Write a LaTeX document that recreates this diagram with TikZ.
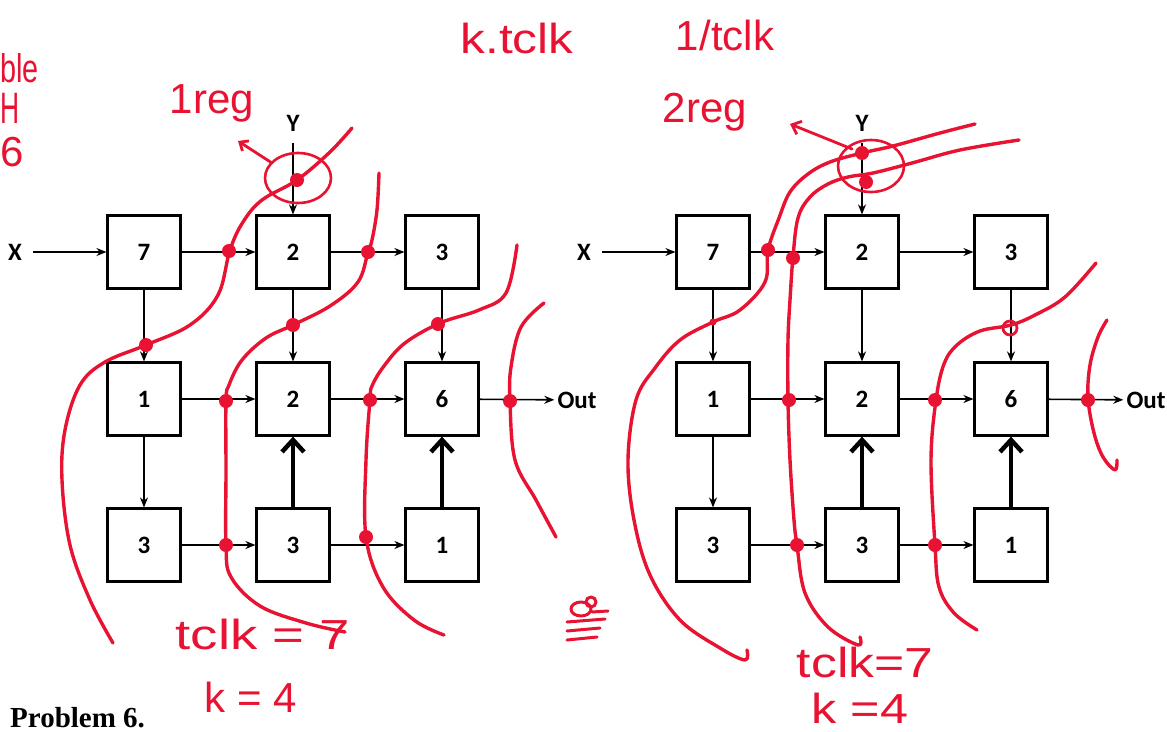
\documentclass[tikz,border=0pt]{standalone}
\usepackage{fontspec}
\usetikzlibrary{arrows.meta}
\newfontfamily\boxfont{Carlito}
\newfontfamily\handfont{Liberation Sans}
\newfontfamily\probfont{Liberation Serif}
\definecolor{pen}{RGB}{232,18,50}
\tikzset{
  blk/.style={draw, line width=2.2pt, minimum width=73pt, minimum height=73pt, inner sep=0pt,
    font=\boxfont\bfseries\fontsize{25}{25}\selectfont},
  lbl/.style={inner sep=0pt, font=\boxfont\bfseries\fontsize{25}{25}\selectfont},
  conn/.style={line width=1.6pt, -{Stealth[length=10pt,width=8pt]}},
  boldarr/.style={line width=4.5pt, -{Straight Barb[length=12pt,width=22pt]}},
  cut/.style={pen, line width=3.4pt, line cap=round, line join=round},
  ring/.style={pen, line width=2.6pt},
  hand/.style={pen, inner sep=0pt, font=\handfont\fontsize{42}{42}\selectfont},
}
\newcommand\pipegrid{%
  \node[blk] (a) at (144,252) {7};
  \node[blk] (b) at (293,252) {2};
  \node[blk] (c) at (442,252) {3};
  \node[blk] (d) at (144,399) {1};
  \node[blk] (e) at (293,399) {2};
  \node[blk] (f) at (442,399) {6};
  \node[blk] (g) at (144,545) {3};
  \node[blk] (h) at (293,545) {3};
  \node[blk] (i) at (442,545) {1};
  \node[lbl] (x) at (15,252) {X};
  \node[lbl] (y) at (293,123) {Y};
  \node[lbl] (out) at (577,400) {Out};
  \draw[conn, shorten <=11pt] (x) -- (a);
  \draw[conn, shorten <=12pt] (y) -- (b);
  \draw[conn] (a) -- (b);
  \draw[conn] (b) -- (c);
  \draw[conn] (d) -- (e);
  \draw[conn] (e) -- (f);
  \draw[conn, shorten >=3pt] (f) -- (out);
  \draw[conn] (g) -- (h);
  \draw[conn] (h) -- (i);
  \draw[conn] (a) -- (d);
  \draw[conn] (d) -- (g);
  \draw[conn] (b) -- (e);
  \draw[conn] (c) -- (f);
  \draw[boldarr] (h) -- (e);
  \draw[boldarr] (i) -- (f);
}
\begin{document}
\begin{tikzpicture}[x=1pt, y=-1pt]
\useasboundingbox (0,0) rectangle (1167,731);
\clip (0,0) rectangle (1167,731);
\fill[white] (0,0) rectangle (1167,731);

\begin{scope}[name prefix=L-]
  \pipegrid
\end{scope}
\begin{scope}[xshift=569pt, name prefix=R-]
  \pipegrid
\end{scope}

\node[inner sep=0pt, anchor=base west, font=\probfont\bfseries\fontsize{29}{29}\selectfont] (prob) at (10,727) {Problem 6.};

% ---------- handwritten notes ----------
\node[hand, anchor=west, font=\handfont\fontsize{40}{40}\selectfont] (n1) at (0,68) {\scalebox{0.72}[1]{ble}};
\node[hand, anchor=west, font=\handfont\fontsize{44}{44}\selectfont] (n2) at (0,108) {\scalebox{0.6}[1]{H}};
\node[hand, anchor=west] (n3) at (0,152) {6};
\node[hand] (n4) at (517,38) {\scalebox{1.18}[1]{k.tclk}};
\node[hand] (n5) at (725,35) {1/tclk};
\node[hand] (n6) at (212,103) {1reg};
\node[hand] (n7) at (705,112) {2reg};
\node[hand] (n8) at (263,634) {\scalebox{1.3}[1]{tclk = 7}};
\node[hand] (n9) at (251,697) {k = 4};
\node[hand] (n10) at (865,662) {\scalebox{1.23}[1]{tclk=7}};
\node[hand] (n11) at (860,708) {\scalebox{1.2}[1]{k =4}};

% doodle
\draw[cut, line width=3pt] (581,609) ellipse [x radius=10, y radius=7];
\draw[cut, line width=3pt] (591,602) circle (5);
\draw[cut, line width=3pt] (592,612) -- (608,611);
\draw[cut, line width=3pt] (567,622) -- (605,619);
\draw[cut, line width=3pt] (567,631) -- (600,628);
\draw[cut, line width=3pt] (567,640) -- (597,637);

% ---------- left cuts ----------
\draw[cut] plot[smooth, tension=0.6] coordinates {(352,128) (330,152) (297,180) (262,200) (243,222) (230,250) (218,295) (190,325) (146,345) (105,362) (80,385) (65,430) (62,480) (70,545) (90,600) (113,643)};
\draw[cut] plot[smooth, tension=0.6] coordinates {(379,173) (377,210) (372,240) (368,252) (358,282) (330,306) (293,325) (266,338) (242,360) (229,385) (226,401) (226,470) (226,545) (231,577) (260,606) (306,623) (345,632)};
\draw[cut] plot[smooth, tension=0.6] coordinates {(517,245) (506,293) (479,310) (440,323) (405,343) (384,366) (372,386) (370,400) (366,460) (366,537) (383,587) (414,620) (444,635)};
\draw[cut] plot[smooth, tension=0.6] coordinates {(544,303) (521,327) (511,367) (510,401) (515,460) (536,500) (556,537)};
\draw[ring] (298,178) ellipse [x radius=33, y radius=25];
\draw[cut, line width=2.8pt, -{Straight Barb[length=7pt,width=12pt]}] (272,163) -- (238,141);
\foreach \p in {(297,180),(229,251),(146,345),(368,252),(293,325),(226,401),(226,545),(438,324),(370,400),(366,537),(510,401)}
  \fill[pen] \p circle (7);

% ---------- right cuts ----------
\draw[cut] plot[smooth, tension=0.6] coordinates {(975,124) (940,133) (893,146) (862,153) (830,162) (808,174) (790,192) (779,218) (768,250) (765,282) (740,310) (713,322) (680,340) (655,368) (636,400) (628,460) (634,520) (650,575) (680,620) (720,648) (745,660) (747,650)};
\draw[cut] plot[smooth, tension=0.6] coordinates {(1019,140) (960,150) (912,163) (873,173) (848,177) (828,184) (810,197) (798,218) (793,257) (790,300) (788,340) (788,400) (790,460) (794,520) (797,545) (805,593) (828,627) (858,645) (860,637)};
\draw[cut] plot[smooth, tension=0.6] coordinates {(1096,263) (1065,297) (1035,315) (1011,325) (980,331) (957,345) (944,364) (936,400) (931,460) (935,545) (939,587) (954,613) (977,630)};
\draw[cut] plot[smooth, tension=0.6] coordinates {(1107,320) (1098,337) (1090,365) (1088,398) (1094,433) (1103,457) (1115,470) (1117,460)};
\draw[ring] (871,166) ellipse [x radius=33, y radius=26];
\draw[cut, line width=2.8pt, -{Straight Barb[length=8pt,width=14pt]}] (852,149) -- (790,124);
\draw[pen, line width=2.8pt] (1010,328) circle (7);
\foreach \p in {(862,153),(866,182),(768,250),(793,258),(789,400),(797,545),(935,400),(935,545),(1088,400)}
  \fill[pen] \p circle (7);
\fill[pen] (713,322) circle (3.5);
\end{tikzpicture}
\end{document}
